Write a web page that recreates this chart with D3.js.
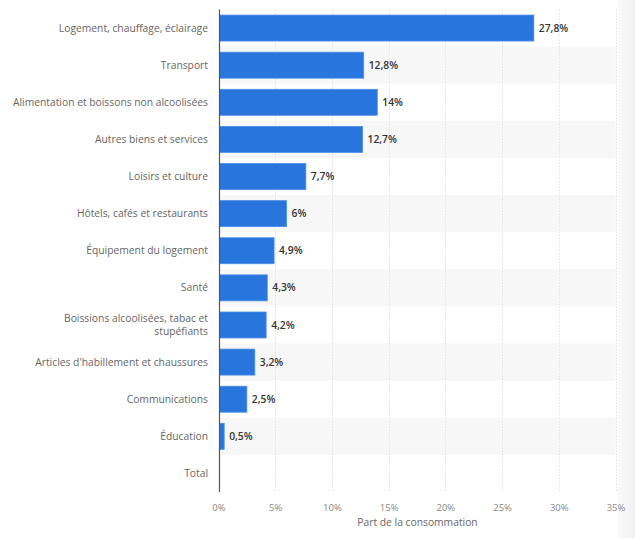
<!DOCTYPE html>
<html><head><meta charset="utf-8">
<script src="https://cdn.jsdelivr.net/npm/d3@7"></script>
<style>
body{margin:0;background:#fff;}
svg{display:block;font-family:"Open Sans",sans-serif;}
</style></head>
<body><svg id="c" width="635" height="538"></svg>
<script>
const categories = ["Logement, chauffage, éclairage","Transport","Alimentation et boissons non alcoolisées","Autres biens et services","Loisirs et culture","Hôtels, cafés et restaurants","Équipement du logement","Santé","Boissions alcoolisées, tabac et|stupéfiants","Articles d'habillement et chaussures","Communications","Éducation","Total"];
const values = [27.8,12.8,14,12.7,7.7,6,4.9,4.3,4.2,3.2,2.5,0.5,null];
const valueLabels = ["27,8%","12,8%","14%","12,7%","7,7%","6%","4,9%","4,3%","4,2%","3,2%","2,5%","0,5%",""];
const ticks = [0,5,10,15,20,25,30,35];
const tickLabels = ["0%","5%","10%","15%","20%","25%","30%","35%"];
const axisTitle = "Part de la consommation";

(function(){
const svg = d3.select("#c");
const pL = 219.5, pR = 615.5, pT = 9.5, pB = 492;
const x = d3.scaleLinear().domain([0,35]).range([pL - 1, pR]);
const y = d3.scaleBand().domain(categories).range([pT,pB]).paddingInner(0.3).paddingOuter(0.15);
const yRow = d3.scaleBand().domain(categories).range([pT,pB]);

// right edge shade
const defs = svg.append("defs");
const g1 = defs.append("linearGradient").attr("id","sh");
g1.append("stop").attr("offset","0").attr("stop-color","#fafafa");
g1.append("stop").attr("offset","1").attr("stop-color","#f1f1f1");
svg.append("rect").attr("x",618).attr("y",0).attr("width",17).attr("height",538).attr("fill","url(#sh)");

// stripes
svg.append("g").selectAll("rect").data(categories.filter((d,i)=>i%2===1)).join("rect")
  .attr("x",pL).attr("width",pR-pL)
  .attr("y",d=>yRow(d)).attr("height",yRow.bandwidth())
  .attr("fill","#f7f7f7");

// gridlines
svg.append("g").selectAll("line").data(ticks.slice(1)).join("line")
  .attr("x1",d=>Math.round(x(d))+0.5).attr("x2",d=>Math.round(x(d))+0.5)
  .attr("y1",pT).attr("y2",pB)
  .attr("stroke","#e2e2e2").attr("stroke-dasharray","1.5,1.5");

// bars
svg.append("g").selectAll("rect").data(categories.map((c,i)=>({c,v:values[i]})).filter(d=>d.v!=null)).join("rect")
  .attr("x",pL).attr("y",d=>y(d.c))
  .attr("width",d=>x(d.v)-pL).attr("height",y.bandwidth())
  .attr("fill","#2876dd").attr("stroke","#4a8de6").attr("stroke-width",0.8);

// value labels
svg.append("g").selectAll("text").data(categories.map((c,i)=>({c,v:values[i],l:valueLabels[i]})).filter(d=>d.v!=null)).join("text")
  .attr("x",d=>x(d.v)+5).attr("y",d=>yRow(d.c)+yRow.bandwidth()/2)
  .attr("dy","0.35em").attr("font-size",10.3).attr("font-weight",600).attr("fill","#333")
  .text(d=>d.l);

// category labels
const cl = svg.append("g").selectAll("text").data(categories).join("text")
  .attr("text-anchor","end").attr("font-size",10.3).attr("fill","#666")
  .attr("x",208);
cl.each(function(d){
  const parts = d.split("|");
  const t = d3.select(this);
  const cy = yRow(d)+yRow.bandwidth()/2;
  parts.forEach((p,i)=>{
    t.append("tspan").attr("x",208).attr("y",cy + (i-(parts.length-1)/2)*12.5).attr("dy","0.35em").text(p);
  });
});

// axis line
svg.append("line").attr("x1",pL).attr("x2",pL).attr("y1",pT).attr("y2",pB)
  .attr("stroke","#555").attr("stroke-width",1.2);

// x axis ticks
const ax = svg.append("g").attr("transform",`translate(0,${pB})`)
  .call(d3.axisBottom(x).tickValues(ticks).tickFormat((d,i)=>tickLabels[i]).tickSize(0).tickPadding(12));
ax.select(".domain").remove();
ax.selectAll("text").attr("font-size",9.5).attr("fill","#888").attr("font-family","Open Sans, sans-serif");

svg.append("text").attr("x",(pL+pR)/2).attr("y",526).attr("text-anchor","middle")
  .attr("font-size",10.3).attr("fill","#666").text(axisTitle);
})();
</script></body></html>
